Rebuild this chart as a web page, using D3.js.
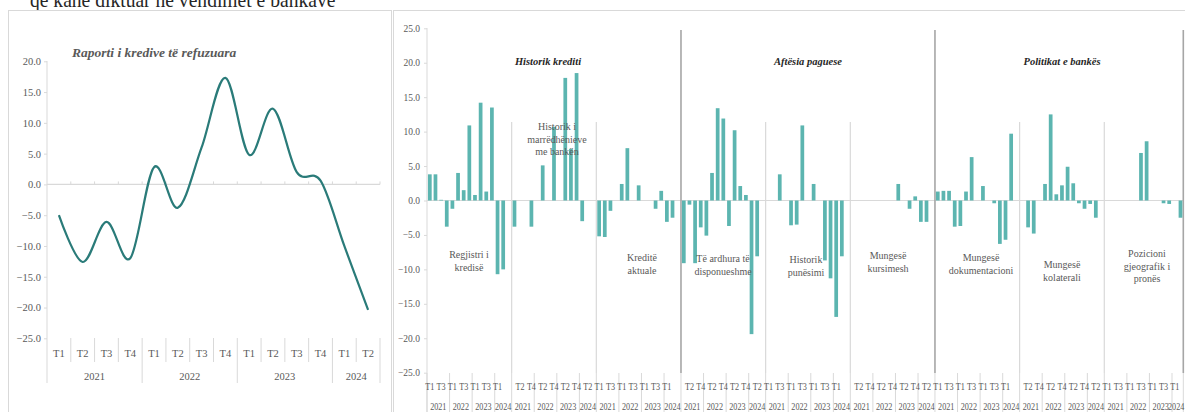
<!DOCTYPE html>
<html>
<head>
<meta charset="utf-8">
<script src="https://cdn.jsdelivr.net/npm/d3@7"></script>
<style>
  body { margin: 0; background: #fff; }
</style>
</head>
<body>
<div id="wrapper"></div>
<script>
// quarters shared by both charts
const quarters = ["T1", "T2", "T3", "T4", "T1", "T2", "T3", "T4", "T1", "T2", "T3", "T4", "T1", "T2"];
const quarterYears = ["2021", "2021", "2021", "2021", "2022", "2022", "2022", "2022",
                      "2023", "2023", "2023", "2023", "2024", "2024"];

// left chart
const rejectedRatio = [-5.0, -12.6, -6.1, -12.0, 2.8, -3.8, 6.0, 17.3, 4.8, 12.3, 2.0, 0.6, -10.0, -20.4];
const leftTicks = [-25, -20, -15, -10, -5, 0, 5, 10, 15, 20];

// right chart, one array per factor (null = no bar)
const regjistri = [3.8, 3.8, 0.1, -3.8, -1.2, 4.0, 1.5, 10.9, 0.8, 14.2, 1.3, 13.5, -10.7, -10.0];
const marredheniet = [-3.8, null, null, -3.8, null, 5.1, null, 10.7, null, 17.8, 7.5, 18.5, -3.0, null];
const krediteAktuale = [-5.2, -5.3, -1.5, null, 2.4, 7.6, null, 2.2, null, null, -1.2, 1.4, -3.1, -2.5];
const teArdhura = [-9.1, -0.6, -9.1, -3.9, -5.1, 4.0, 13.4, 11.9, -3.7, 10.2, 2.1, 0.8, -19.4, -8.1];
const punesimi = [null, null, 3.8, null, -3.6, -3.5, 10.9, null, 2.4, null, -8.7, -11.3, -16.9, -8.1];
const kursime = [null, null, null, null, null, null, null, null, 2.4, null, -1.2, 0.6, -3.1, -3.1];
const dokumentacioni = [1.3, 1.4, 1.4, -3.8, -3.7, 1.3, 6.3, null, 2.1, null, -0.4, -6.3, -5.7, 9.7];
const kolaterali = [null, -3.9, -4.8, null, 2.4, 12.5, 0.9, 2.2, 4.9, 2.5, -0.4, -1.2, -0.5, -2.5];
const pozicioni = [null, null, null, null, null, null, 6.9, 8.6, null, null, -0.4, -0.5, null, -2.5];

const factorSeries = [regjistri, marredheniet, krediteAktuale, teArdhura, punesimi,
                      kursime, dokumentacioni, kolaterali, pozicioni];
const factorNames = [["Regjistri i", "kredisë"], ["Historik i", "marrëdhënieve", "me bankën"],
                     ["Kreditë", "aktuale"], ["Të ardhura të", "disponueshme"], ["Historik", "punësimi"],
                     ["Mungesë", "kursimesh"], ["Mungesë", "dokumentacioni"], ["Mungesë", "kolaterali"],
                     ["Pozicioni", "gjeografik i", "pronës"]];
const sectionNames = ["Historik krediti", "Aftësia paguese", "Politikat e bankës"];
const rightTicks = [-25, -20, -15, -10, -5, 0, 5, 10, 15, 20, 25];

const serif = "'Liberation Serif', 'DejaVu Serif', serif";

const svg = d3.select("#wrapper").append("svg")
  .attr("width", 1185)
  .attr("height", 412)
  .attr("font-family", serif);

const gray = "#595959";
const light = "#d9d9d9";
const fmt = d3.format(".1f");

// cut off heading from the page above (narrow serif in the original)
svg.append("text")
  .attr("transform", "translate(30,7) scale(0.89,1)")
  .attr("font-size", 22).attr("fill", "#262626")
  .text("që kanë diktuar në vendimet e bankave");

// frames
svg.append("rect").attr("x", 8.5).attr("y", 10.5).attr("width", 383).attr("height", 420)
  .attr("fill", "#fff").attr("stroke", light);
svg.append("rect").attr("x", 393.5).attr("y", 10.5).attr("width", 800).attr("height", 420)
  .attr("fill", "#fff").attr("stroke", light);

drawLeft();
drawRight();

function drawLeft() {
  const xScale = d3.scaleBand().domain(d3.range(quarters.length)).range([47, 380]);
  const yScale = d3.scaleLinear().domain([-25, 20]).range([338.3, 61.3]);
  const g = svg.append("g");

  // y axis
  const yAxis = g.append("g")
    .attr("transform", "translate(47,0)")
    .call(d3.axisLeft(yScale).tickValues(leftTicks).tickFormat(fmt).tickSize(3).tickPadding(3))
    .attr("font-family", serif);
  yAxis.select(".domain").remove();
  yAxis.selectAll("line").attr("stroke", light);
  yAxis.selectAll("text").attr("font-size", 10.5).attr("fill", gray);
  g.append("line").attr("x1", 47).attr("x2", 47).attr("y1", 61).attr("y2", 383).attr("stroke", light);

  // zero line with ticks
  g.append("line").attr("x1", 47).attr("x2", 380).attr("y1", yScale(0)).attr("y2", yScale(0))
    .attr("stroke", light).attr("stroke-width", 1.2);
  g.selectAll(".ztick").data(d3.range(1, quarters.length + 1)).join("line")
    .attr("x1", d => 47 + d * xScale.step()).attr("x2", d => 47 + d * xScale.step())
    .attr("y1", yScale(0) - 3).attr("y2", yScale(0))
    .attr("stroke", light);

  // category separators
  g.selectAll(".sep").data(d3.range(1, quarters.length + 1)).join("line")
    .attr("x1", d => 47 + d * xScale.step()).attr("x2", d => 47 + d * xScale.step())
    .attr("y1", 338)
    .attr("y2", d => (d === quarters.length || quarterYears[d] !== quarterYears[d - 1]) ? 383 : 362)
    .attr("stroke", light);

  g.selectAll(".qlab").data(quarters).join("text")
    .attr("x", (d, i) => xScale(i) + xScale.bandwidth() / 2)
    .attr("y", 357)
    .attr("text-anchor", "middle").attr("font-size", 10.5).attr("fill", gray)
    .text(d => d);

  const yearGroups = d3.groups(quarters.map((q, i) => i), i => quarterYears[i]);
  g.selectAll(".ylab").data(yearGroups).join("text")
    .attr("x", d => (xScale(d[1][0]) + xScale(d[1][d[1].length - 1]) + xScale.bandwidth()) / 2)
    .attr("y", 380)
    .attr("text-anchor", "middle").attr("font-size", 10.5).attr("fill", gray)
    .text(d => d[0]);

  // line
  const line = d3.line()
    .x((d, i) => xScale(i) + xScale.bandwidth() / 2)
    .y(d => yScale(d))
    .curve(d3.curveCardinal.tension(0));
  g.append("path").datum(rejectedRatio)
    .attr("d", line)
    .attr("fill", "none").attr("stroke", "#2a7b79").attr("stroke-width", 2.2);

  g.append("text")
    .attr("x", 72).attr("y", 57)
    .attr("font-size", 13.5).attr("font-weight", "bold").attr("font-style", "italic")
    .attr("fill", gray)
    .text("Raporti i kredive të refuzuara");
}

function drawRight() {
  // 14 quarters per factor, an empty slot between factors
  const slots = [];
  factorSeries.forEach((series, gi) => {
    series.forEach((v, i) => slots.push({ group: gi, label: quarters[i], year: quarterYears[i], value: v }));
    if (gi < factorSeries.length - 1) slots.push({ group: gi, label: "", year: "2024", value: null });
  });

  const left = 427, right = 1183.3;
  const xScale = d3.scaleBand().domain(d3.range(slots.length)).range([left, right])
    .paddingInner(0.34).paddingOuter(0.17);
  const yScale = d3.scaleLinear().domain([-25, 25]).range([372.7, 28.3]);
  const g = svg.append("g");
  const step = xScale.step();

  const yAxis = g.append("g")
    .attr("transform", `translate(${left},0)`)
    .call(d3.axisLeft(yScale).tickValues(rightTicks).tickFormat(fmt).tickSize(3).tickPadding(4))
    .attr("font-family", serif);
  yAxis.select(".domain").remove();
  yAxis.selectAll("line").attr("stroke", light);
  yAxis.selectAll("text").attr("font-size", 9.5).attr("fill", gray);
  g.append("line").attr("x1", left).attr("x2", left).attr("y1", 28).attr("y2", 412).attr("stroke", light);

  g.append("line").attr("x1", left).attr("x2", right).attr("y1", yScale(0)).attr("y2", yScale(0))
    .attr("stroke", light).attr("stroke-width", 1.2);

  // factor boundaries: dark between sections, light inside
  const bounds = d3.range(1, factorSeries.length + 1).map(k => ({ k, x: left + k * 15 * step }));
  bounds[bounds.length - 1].x = right;
  g.selectAll(".gsep").data(bounds).join("line")
    .attr("x1", d => d.x).attr("x2", d => d.x)
    .attr("y1", d => d.k % 3 === 0 ? 30 : 122)
    .attr("y2", 373)
    .attr("stroke", d => d.k % 3 === 0 ? "#a6a6a6" : light)
    .attr("stroke-width", d => d.k % 3 === 0 ? 1.6 : 1.2);

  // bars
  g.selectAll("rect").data(slots.map((d, i) => ({ ...d, i })).filter(d => d.value !== null))
    .join("rect")
    .attr("x", d => xScale(d.i))
    .attr("width", xScale.bandwidth())
    .attr("y", d => yScale(Math.max(0, d.value)))
    .attr("height", d => Math.abs(yScale(d.value) - yScale(0)))
    .attr("fill", "#5cb5b0");

  // year separators in label rows
  const yearSeps = [];
  slots.forEach((d, i) => {
    if (i === 0 || d.group !== slots[i - 1].group || d.year !== slots[i - 1].year) yearSeps.push(i);
  });
  yearSeps.push(slots.length);
  g.selectAll(".ysep").data(yearSeps).join("line")
    .attr("x1", d => left + d * step).attr("x2", d => left + d * step)
    .attr("y1", 373).attr("y2", 412)
    .attr("stroke", light);

  // every second quarter label, like the original; labels are narrow
  g.selectAll(".qlab").data(slots.map((d, i) => ({ ...d, i })).filter(d => d.i % 2 === 0))
    .join("text")
    .attr("transform", d => `translate(${xScale(d.i) + xScale.bandwidth() / 2},390) scale(0.86,1)`)
    .attr("text-anchor", "middle").attr("font-size", 9.5).attr("fill", gray)
    .text(d => d.label);

  const yearRuns = [];
  slots.forEach((d, i) => {
    const last = yearRuns[yearRuns.length - 1];
    if (last && last.group === d.group && last.year === d.year) last.end = i;
    else yearRuns.push({ group: d.group, year: d.year, start: i, end: i });
  });
  g.selectAll(".ylab").data(yearRuns).join("text")
    .attr("transform", (d, i) => {
      const x = i === yearRuns.length - 1 ? right + 1 : left + (d.start + d.end + 1) / 2 * step;
      return `translate(${x},410) scale(0.86,1)`;
    })
    .attr("text-anchor", (d, i) => i === yearRuns.length - 1 ? "end" : "middle")
    .attr("font-size", 9.5).attr("fill", gray)
    .text(d => d.year);

  // section titles
  const sectionX = [548, 808, 1062];
  g.selectAll(".sec").data(sectionNames).join("text")
    .attr("x", (d, i) => sectionX[i]).attr("y", 65)
    .attr("text-anchor", "middle").attr("font-size", 10.5)
    .attr("font-weight", "bold").attr("font-style", "italic").attr("fill", "#262626")
    .text(d => d);

  // factor names
  const nameX = [469, 557, 642, 723, 806, 888, 981, 1062, 1147];
  const nameY = [258, 130, 261, 262, 263, 259, 261, 268, 257];
  factorNames.forEach((lines, gi) => {
    const t = g.append("text")
      .attr("text-anchor", "middle").attr("font-size", 10).attr("fill", gray);
    lines.forEach((s, li) => {
      t.append("tspan").attr("x", nameX[gi]).attr("y", nameY[gi] + li * 12.5).text(s);
    });
  });
}
</script>
</body>
</html>
